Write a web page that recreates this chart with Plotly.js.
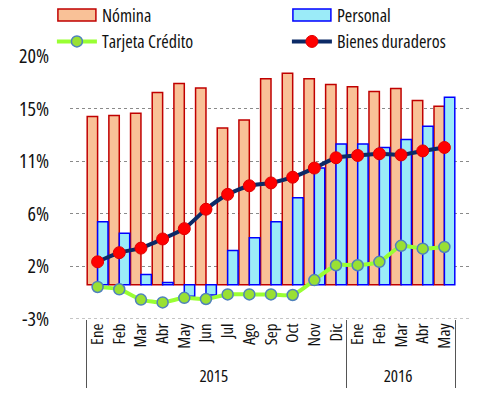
<!DOCTYPE html>
<html>
<head>
<meta charset="utf-8">
<script src="https://cdn.plot.ly/plotly-3.0.1.min.js"></script>
<style>
  body { margin: 0; background: #fff; }
  #chart { width: 494px; height: 403px; }
  svg text { font-stretch: condensed !important; }
</style>
</head>
<body>
<div id="chart"></div>
<script>
const years = ['2015','2015','2015','2015','2015','2015','2015','2015','2015','2015','2015','2015',
               '2016','2016','2016','2016','2016'];
const months = ['Ene','Feb','Mar','Abr','May','Jun','Jul','Ago','Sep','Oct','Nov','Dic',
                'Ene','Feb','Mar','Abr','May'];

const nomina = [14.7, 14.8, 15.0, 16.8, 17.6, 17.2, 13.7, 14.4, 18.0, 18.5, 18.0, 17.5, 17.3, 16.9, 17.15, 16.1, 15.6];
const personal = [5.5, 4.5, 0.9, 0.2, -1.0, -0.9, 3.0, 4.1, 5.5, 7.6, 10.2, 12.3, 12.3, 12.0, 12.7, 13.85, 16.4];
const tarjeta = [-0.2, -0.4, -1.3, -1.55, -1.15, -1.25, -0.85, -0.85, -0.85, -0.9, 0.4, 1.7, 1.7, 2.0, 3.4, 3.15, 3.3];
const bienes = [2.0, 2.8, 3.2, 4.0, 4.9, 6.6, 7.9, 8.65, 8.9, 9.4, 10.2, 11.1, 11.3, 11.45, 11.35, 11.7, 12.0];

const yTicks = [-3, 1.6, 6.2, 10.8, 15.4, 20];
const yTickText = ['-3%', '2%', '6%', '11%', '15%', '20%'];

const fontFam = 'Open Sans, sans-serif';
const x = [years, months];

const traces = [
    {
        type: 'bar', name: 'Nómina', x: x, y: nomina,
        marker: {color: '#F9C197', line: {color: '#C00000', width: 1.5}}
    },
    {
        type: 'bar', name: 'Personal', x: x, y: personal,
        marker: {color: '#9BEBF8', line: {color: '#0000FF', width: 1.5}}
    },
    {
        type: 'scatter', mode: 'lines+markers', name: 'Tarjeta Crédito', x: x, y: tarjeta,
        line: {color: '#99FF33', width: 4, shape: 'spline', smoothing: 0.6},
        marker: {color: '#99E033', size: 11, line: {color: '#4F81BD', width: 1.5}}
    },
    {
        type: 'scatter', mode: 'lines+markers', name: 'Bienes duraderos', x: x, y: bienes,
        line: {color: '#0C2A66', width: 4, shape: 'spline', smoothing: 0.6},
        marker: {color: '#FF0000', size: 12, line: {color: '#E00000', width: 1}}
    }
];

const layout = {
    width: 494,
    height: 403,
    margin: {l: 70, r: 22, t: 56, b: 84, autoexpand: false},
    paper_bgcolor: '#FFFFFF',
    plot_bgcolor: '#FFFFFF',
    font: {family: fontFam, size: 18, color: '#111'},
    barmode: 'group',
    bargap: 0.04,
    bargroupgap: 0,
    showlegend: true,
    legend: {
        orientation: 'h',
        x: -0.045, xanchor: 'left',
        y: 1.225, yanchor: 'top',
        entrywidth: 180, entrywidthmode: 'pixels',
        itemwidth: 40,
        tracegroupgap: 0,
        font: {family: fontFam, size: 18, color: '#111'},
        bgcolor: 'rgba(0,0,0,0)'
    },
    xaxis: {
        type: 'multicategory',
        tickangle: -90,
        tickfont: {family: fontFam, size: 17, color: '#111'},
        showgrid: false,
        showline: false,
        ticks: '',
        showdividers: true,
        dividercolor: '#555',
        dividerwidth: 1
    },
    yaxis: {
        range: [-3, 20],
        tickvals: yTicks,
        ticktext: yTickText,
        showgrid: true,
        gridcolor: '#8a8a8a',
        griddash: 'dot',
        gridwidth: 1,
        zeroline: false,
        showline: false,
        ticks: '',
        ticklabelstandoff: 20,
        tickfont: {family: fontFam, size: 20, color: '#111'}
    },
    shapes: [
        {type: 'line', xref: 'paper', x0: 0, x1: 1, yref: 'y', y0: -3, y1: -3,
         line: {color: '#8a8a8a', width: 1, dash: 'dot'}, layer: 'below'}
    ]
};

// widen the bar swatches in the legend into rectangles, like the original
function widenSwatches() {
    document.querySelectorAll('#chart .legendpoints path').forEach(function (p) {
        const d = (p.getAttribute('d') || '').replace(/\s/g, '');
        if (/^M6,6H-6V-6H6Z$/.test(d)) p.setAttribute('d', 'M19,6H-19V-6H19Z');
    });
}

Plotly.newPlot('chart', traces, layout, {displayModeBar: false, staticPlot: true}).then(function () {
    widenSwatches();
    setTimeout(widenSwatches, 50);
});
</script>
</body>
</html>
